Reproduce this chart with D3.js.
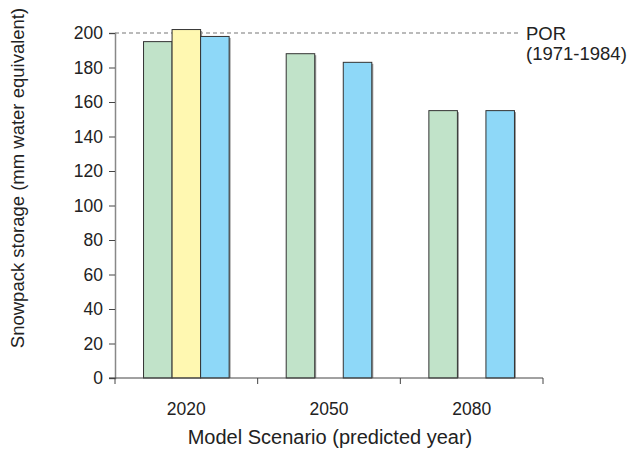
<!DOCTYPE html>
<html>
<head>
<meta charset="utf-8">
<script src="https://cdn.jsdelivr.net/npm/d3@7"></script>
<style>
  body { margin: 0; background: #fff; }
  text { font-family: "Liberation Sans", Arial, sans-serif; fill: #222; }
</style>
</head>
<body>
<svg></svg>
<script>
const years = ['2020', '2050', '2080'];
const series = ['s1', 's2', 's3'];
const colours = ['#c1e3c9', '#fff8b1', '#8ed8f8'];
// null = no bar for that scenario
const values = [
	[195, 202, 198],
	[188, null, 183],
	[155, null, 155]
];
const porValue = 200;
const yTicks = [0, 20, 40, 60, 80, 100, 120, 140, 160, 180, 200];

const width = 641;
const height = 461;
const margin = {left: 115, right: 98, top: 33, bottom: 83};
const font = '"Liberation Sans", Arial, sans-serif';

const svg = d3.select('svg')
	.attr('width', width)
	.attr('height', height);

const x = d3.scaleBand()
	.domain(years)
	.range([margin.left, width - margin.right]);

const inner = d3.scaleBand()
	.domain(['pad0'].concat(series, ['pad1']))
	.range([0, x.bandwidth()]);

const y = d3.scaleLinear()
	.domain([0, 200])
	.range([height - margin.bottom, margin.top]);

// POR reference line
svg.append('line')
	.attr('x1', margin.left)
	.attr('x2', 521)
	.attr('y1', y(porValue))
	.attr('y2', y(porValue))
	.attr('stroke', '#777')
	.attr('stroke-width', 1.2)
	.attr('stroke-dasharray', '4,3');

svg.append('text')
	.attr('x', 526)
	.attr('y', 40)
	.attr('font-size', 18.5)
	.text('POR');
svg.append('text')
	.attr('x', 526)
	.attr('y', 60)
	.attr('font-size', 18.5)
	.text('(1971-1984)');

const bars = [];
values.forEach((row, i) => {
	row.forEach((v, j) => {
		if (v !== null) bars.push({year: years[i], s: series[j], v: v, c: colours[j]});
	});
});

const g = svg.append('g');
// soft shadow
g.selectAll('rect.shadow')
	.data(bars)
	.enter().append('rect')
		.attr('class', 'shadow')
		.attr('x', d => x(d.year) + inner(d.s) + 1.5)
		.attr('y', d => y(d.v) + 1.5)
		.attr('width', inner.bandwidth())
		.attr('height', d => y(0) - y(d.v) - 1.5)
		.attr('fill', '#999');

g.selectAll('rect.bar')
	.data(bars)
	.enter().append('rect')
		.attr('class', 'bar')
		.attr('x', d => x(d.year) + inner(d.s))
		.attr('y', d => y(d.v))
		.attr('width', inner.bandwidth())
		.attr('height', d => y(0) - y(d.v))
		.attr('fill', d => d.c)
		.attr('stroke', '#333')
		.attr('stroke-width', 1);

// y axis
const yAxis = svg.append('g')
	.attr('transform', `translate(${margin.left},0)`)
	.call(d3.axisLeft(y).tickValues(yTicks).tickSize(6).tickPadding(6));
yAxis.select('.domain').attr('stroke', '#888').attr('stroke-width', 1.5);
yAxis.selectAll('.tick line').attr('stroke', '#444');
yAxis.selectAll('text').attr('font-size', 17.5).attr('font-family', font).attr('fill', '#222');

// x axis
const xAxis = svg.append('g')
	.attr('transform', `translate(0,${y(0)})`)
	.call(d3.axisBottom(x).tickSize(0).tickPadding(25));
xAxis.select('.domain').remove();
xAxis.selectAll('text').attr('font-size', 17.5).attr('font-family', font).attr('fill', '#222');

svg.append('line')
	.attr('x1', margin.left - 6)
	.attr('x2', width - margin.right)
	.attr('y1', y(0))
	.attr('y2', y(0))
	.attr('stroke', '#444');

svg.append('g')
	.selectAll('line')
	.data(x.domain().concat(['end']))
	.enter().append('line')
		.attr('x1', d => d === 'end' ? width - margin.right : x(d))
		.attr('x2', d => d === 'end' ? width - margin.right : x(d))
		.attr('y1', y(0))
		.attr('y2', y(0) + 6)
		.attr('stroke', '#444');

svg.append('text')
	.attr('transform', 'translate(24,178) rotate(-90)')
	.attr('text-anchor', 'middle')
	.attr('font-size', 18.5)
	.text('Snowpack storage (mm water equivalent)');

svg.append('text')
	.attr('x', 330)
	.attr('y', 444)
	.attr('text-anchor', 'middle')
	.attr('font-size', 20)
	.text('Model Scenario (predicted year)');
</script>
</body>
</html>
